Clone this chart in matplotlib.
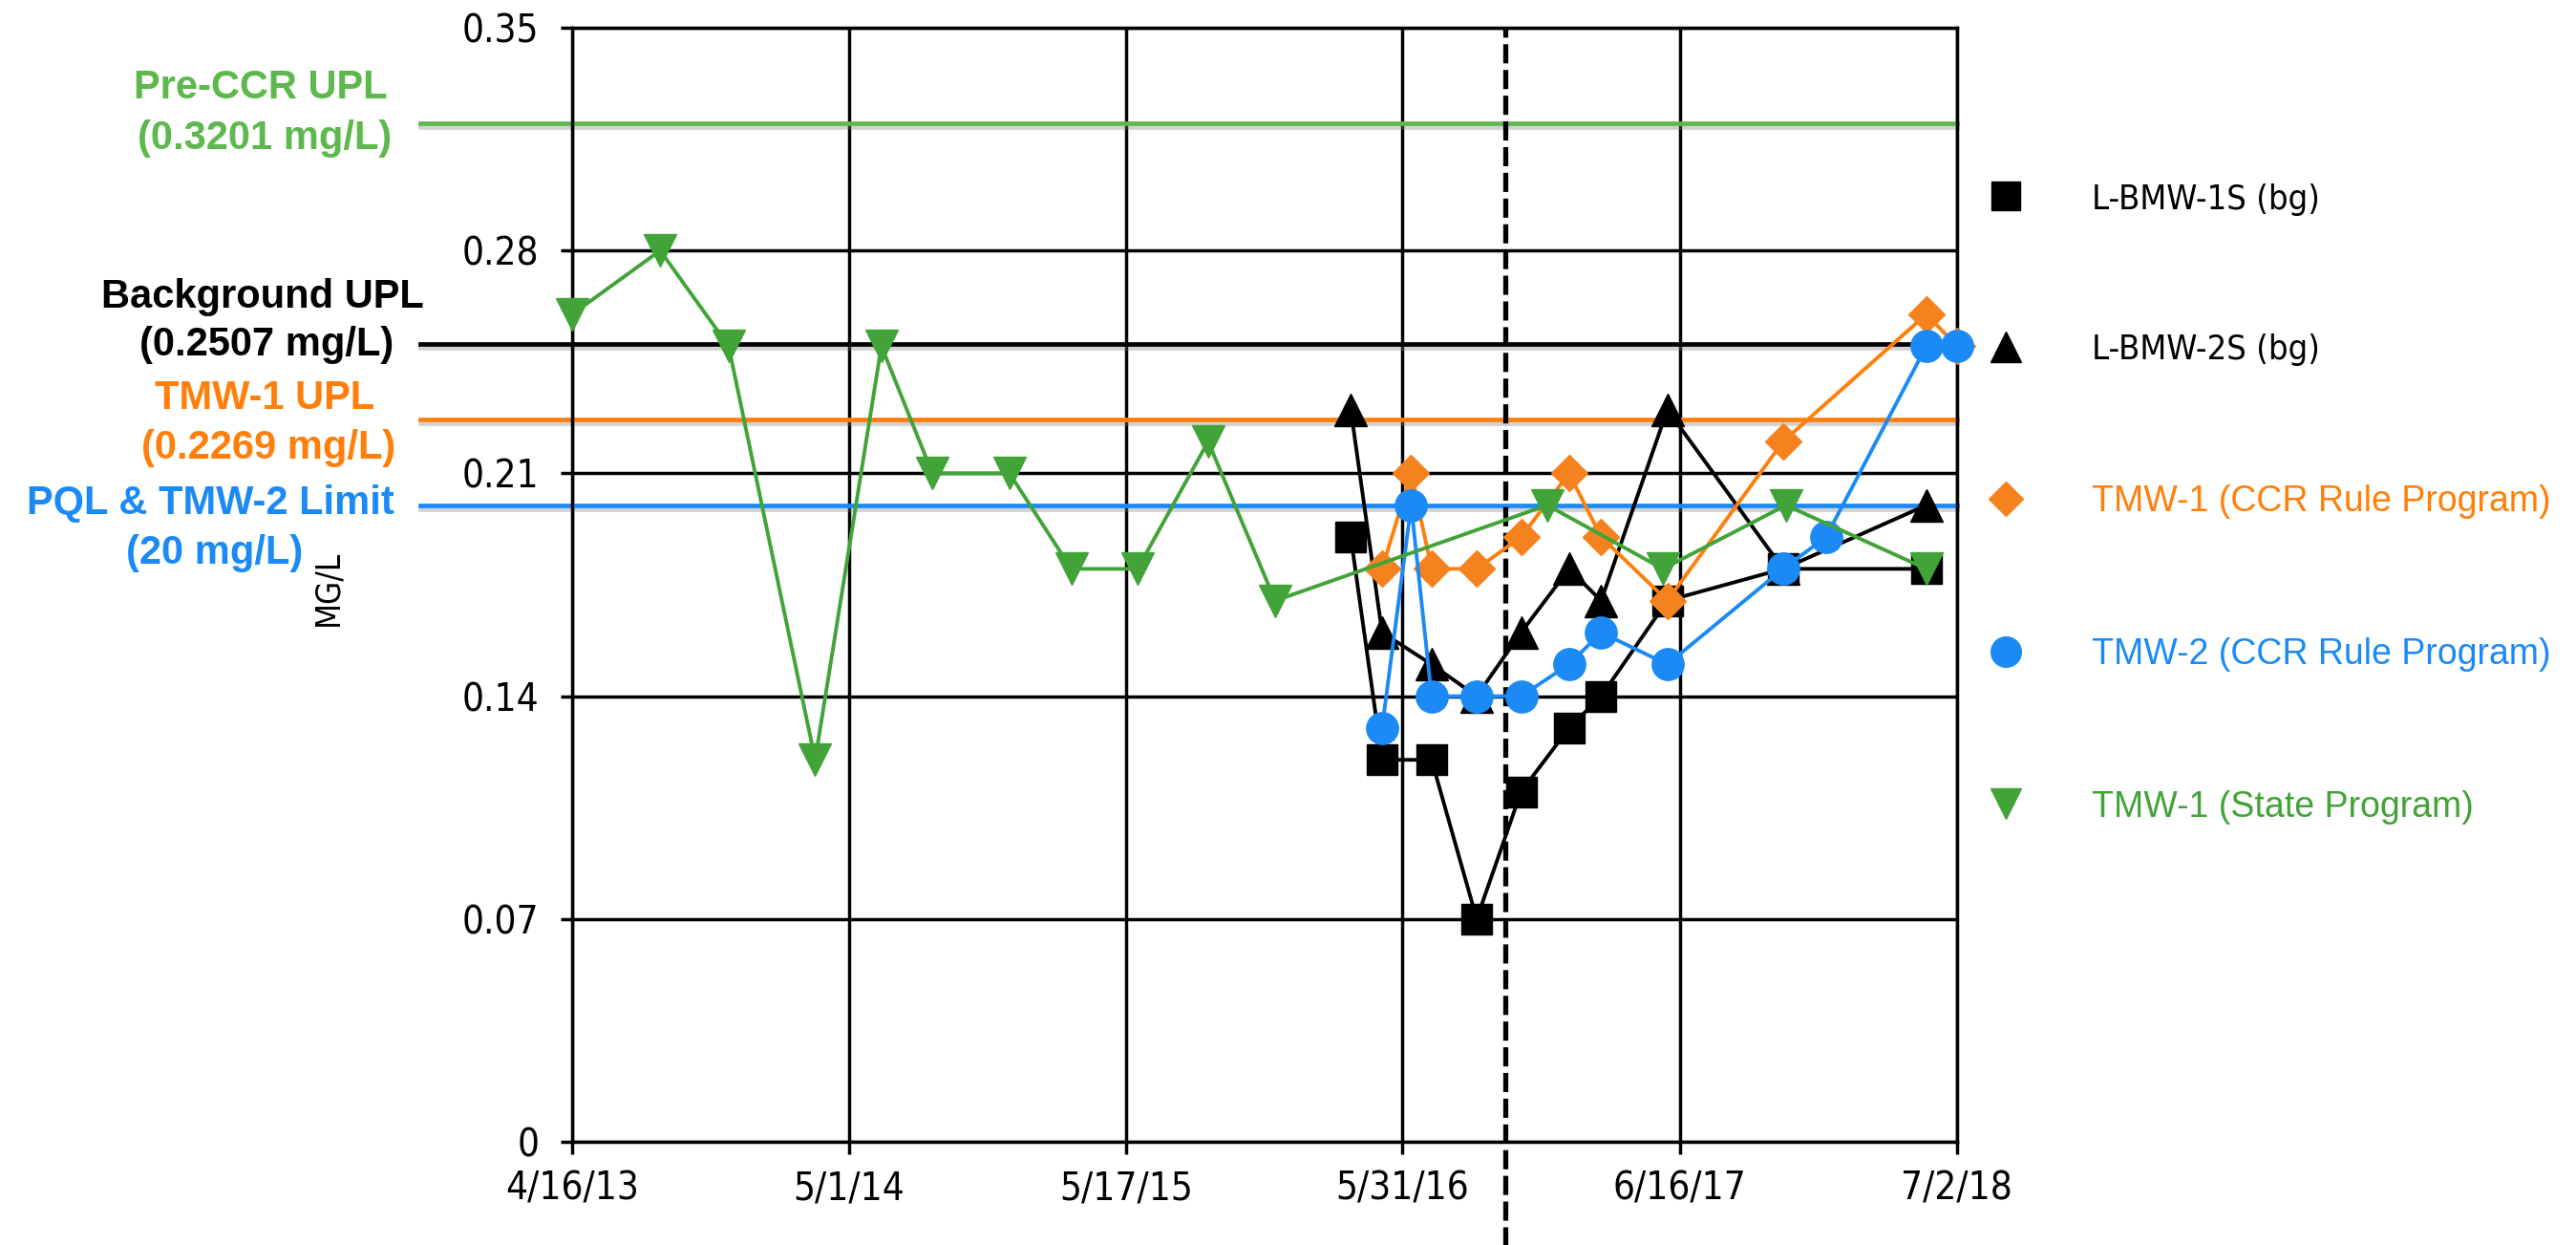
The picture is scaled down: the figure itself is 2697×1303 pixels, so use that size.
import matplotlib
matplotlib.use('Agg')
import matplotlib.pyplot as plt
import matplotlib.patheffects as pe
from matplotlib.lines import Line2D
from matplotlib.font_manager import fontManager, FontProperties
import pandas as pd

# ---- values (mg/L) ----
bmw1s_dates = ['2016-03-21', '2016-05-03', '2016-07-10', '2016-09-10', '2016-11-10',
               '2017-01-15', '2017-02-28', '2017-05-30', '2017-11-05', '2018-05-21']
bmw1s_vals = [0.19, 0.12, 0.12, 0.07, 0.11, 0.13, 0.14, 0.17, 0.18, 0.18]

bmw2s_dates = ['2016-03-21', '2016-05-03', '2016-07-10', '2016-09-10', '2016-11-10',
               '2017-01-15', '2017-02-28', '2017-05-30', '2017-11-05', '2018-05-21']
bmw2s_vals = [0.23, 0.16, 0.15, 0.14, 0.16, 0.18, 0.17, 0.23, 0.18, 0.20]

tmw1_ccr_dates = ['2016-05-03', '2016-06-12', '2016-07-10', '2016-09-10', '2016-11-10',
                  '2017-01-15', '2017-02-28', '2017-05-30', '2017-11-05', '2018-05-21',
                  '2018-07-02']
tmw1_ccr_vals = [0.18, 0.21, 0.18, 0.18, 0.19, 0.21, 0.19, 0.17, 0.22, 0.26, 0.25]

tmw2_ccr_dates = ['2016-05-03', '2016-06-12', '2016-07-10', '2016-09-10', '2016-11-10',
                  '2017-01-15', '2017-02-28', '2017-05-30', '2017-11-05', '2018-01-03',
                  '2018-05-21', '2018-07-02']
tmw2_ccr_vals = [0.13, 0.20, 0.14, 0.14, 0.14, 0.15, 0.16, 0.15, 0.18, 0.19, 0.25, 0.25]

tmw1_state_dates = ['2013-04-16', '2013-08-15', '2013-11-17', '2014-03-16', '2014-06-15',
                    '2014-08-24', '2014-12-08', '2015-03-03', '2015-06-02', '2015-09-07',
                    '2015-12-08', '2016-12-16', '2017-05-24', '2017-11-09', '2018-05-21']
tmw1_state_vals = [0.26, 0.28, 0.25, 0.12, 0.25, 0.21, 0.21, 0.18, 0.18, 0.22,
                   0.17, 0.20, 0.18, 0.20, 0.18]

# limit lines and their two-line labels
limit_titles = ['Pre-CCR UPL', 'Background UPL', 'TMW-1 UPL', 'PQL & TMW-2 Limit']
limit_subs = ['(0.3201 mg/L)', '(0.2507 mg/L)', '(0.2269 mg/L)', '(20 mg/L)']
limit_vals = [0.3201, 0.2507, 0.2269, 0.20]

x_ticks = ['2013-04-16', '2014-05-01', '2015-05-17', '2016-05-31', '2017-06-16', '2018-07-02']
x_labels = ['4/16/13', '5/1/14', '5/17/15', '5/31/16', '6/16/17', '7/2/18']
y_ticks = [0, 0.07, 0.14, 0.21, 0.28, 0.35]
y_labels = ['0', '0.07', '0.14', '0.21', '0.28', '0.35']
program_change = '2016-10-19'

GREEN_LIM = '#5DB84D'
GREEN = '#41A338'
ORANGE = '#FF7F0A'
BLUE = '#1C8AF5'

REG = 'Liberation Sans'
plt.rcParams['font.family'] = REG


def narrow_font(size):
    # a condensed face looks closest to the original axis labels, if one is installed
    for f in fontManager.ttflist:
        nm = f.name + ' ' + f.fname
        if ('Narrow' in nm or 'Condensed' in nm) and f.style == 'normal' \
                and f.weight in (400, 'normal', 'regular', 'book'):
            return FontProperties(fname=f.fname, size=size)
    return FontProperties(family=REG, size=size * 0.9)


fig = plt.figure(figsize=(26.97, 13.03), dpi=100)
ax = fig.add_axes([0.2221, 0.0829, 0.5376, 0.8948])

d = pd.to_datetime

# limit lines with a soft shadow
shadow = [pe.SimpleLineShadow(offset=(0, -3), shadow_color='gray', alpha=0.35), pe.Normal()]
lim_colors = [GREEN_LIM, 'black', ORANGE, BLUE]
for v, c in zip(limit_vals, lim_colors):
    ax.axhline(v, xmin=-0.11, xmax=1.0, color=c, lw=3.4, clip_on=False,
               zorder=1.5, path_effects=shadow)

# labels for the limit lines (one text per line of the label)
lab_x = [-0.2248, -0.2234, -0.2220, -0.2614]
title_y = [0.3311, 0.2654, 0.2335, 0.2005]
sub_y = [0.3152, 0.2503, 0.2179, 0.1849]
trans = ax.get_yaxis_transform()
for t, s, c, lx, ty, sy in zip(limit_titles, limit_subs, lim_colors, lab_x, title_y, sub_y):
    ax.text(lx, ty, t, transform=trans, ha='center', va='center', color=c,
            fontsize=30, fontweight='bold')
    ax.text(lx + 0.003, sy, s, transform=trans, ha='center', va='center', color=c,
            fontsize=30, fontweight='bold')

# data series
lw = 2.8
series = [
    (bmw1s_dates, bmw1s_vals, 'black', 's', 23, 'black', 'L-BMW-1S (bg)'),
    (bmw2s_dates, bmw2s_vals, 'black', '^', 25, 'black', 'L-BMW-2S (bg)'),
    (tmw1_ccr_dates, tmw1_ccr_vals, ORANGE, 'D', 19, '#F5821F', 'TMW-1 (CCR Rule Program)'),
    (tmw2_ccr_dates, tmw2_ccr_vals, BLUE, 'o', 24, BLUE, 'TMW-2 (CCR Rule Program)'),
    (tmw1_state_dates, tmw1_state_vals, GREEN, 'v', 25, GREEN, 'TMW-1 (State Program)'),
]
for i, (xs, ys, c, m, ms, mc, lab) in enumerate(series):
    ax.plot(d(xs), ys, color=c, lw=lw, marker=m, ms=ms, mfc=mc, mec=mc,
            zorder=3 + 0.1 * i, clip_on=False, label=lab)

# program change marker
ax.axvline(d(program_change), ymin=-0.095, ymax=1.0, color='black', lw=3.8,
           dashes=(3.8, 1.3), clip_on=False, zorder=2.5)

# axes and grid
ax.set_xlim(d(x_ticks[0]), d(x_ticks[-1]))
ax.set_ylim(0, 0.35)
ax.set_xticks(d(x_ticks))
ax.set_xticklabels(x_labels, fontproperties=narrow_font(29))
ax.set_yticks(y_ticks)
ax.set_yticklabels(y_labels, fontproperties=narrow_font(29))
ax.tick_params(direction='out', length=9, width=2.5, color='black', pad=12)
ax.tick_params(axis='y', pad=16)
ax.grid(True, color='black', lw=2.5, zorder=1)
ax.set_axisbelow(True)
for s in ax.spines.values():
    s.set_linewidth(2.5)
    s.set_color('black')

fig.text(0.1275, 0.528, 'MG/L', rotation=90, ha='center', va='center',
         fontproperties=narrow_font(25))

# legend
handles, labels = ax.get_legend_handles_labels()
leg_handles = [Line2D([], [], linestyle='none', marker=h.get_marker(),
                      markersize=h.get_markersize() * 0.95, mfc=h.get_markerfacecolor(),
                      mec=h.get_markeredgecolor()) for h in handles]
leg = fig.legend(leg_handles, labels, loc='upper left', bbox_to_anchor=(0.7718, 0.853),
                 frameon=False, fontsize=27, handlelength=1.0, handletextpad=1.9,
                 labelspacing=3.3, borderpad=0, borderaxespad=0)
text_colors = ['black', 'black', ORANGE, BLUE, GREEN]
for t, c in zip(leg.get_texts(), text_colors):
    t.set_color(c)
for t in leg.get_texts()[:2]:
    t.set_fontproperties(narrow_font(26))

fig.savefig('out.png', dpi=100, facecolor='white')
